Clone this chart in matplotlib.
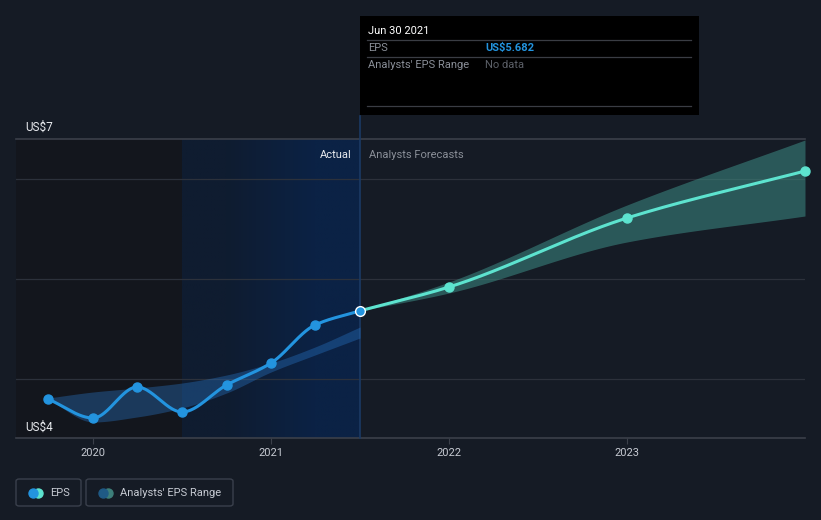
import numpy as np
import matplotlib.pyplot as plt
from matplotlib.patches import FancyBboxPatch, Rectangle
from matplotlib.lines import Line2D

plt.rcParams["font.family"] = ["Roboto", "DejaVu Sans"]

# EPS history (actual)
eps_dates = [2019.747, 2020.0, 2020.247, 2020.5, 2020.75, 2021.0, 2021.247, 2021.5]
eps_values = [4.80, 4.61, 4.92, 4.67, 4.94, 5.16, 5.54, 5.682]
# past analysts' range
past_high = [4.81, 4.87, 4.91, 4.96, 5.04, 5.16, 5.32, 5.52]
past_low = [4.80, 4.57, 4.62, 4.71, 4.86, 5.07, 5.24, 5.41]
# forecast
fc_dates = [2021.5, 2022.0, 2023.0, 2024.0]
fc_values = [5.682, 5.92, 6.61, 7.08]
fc_high = [5.682, 5.97, 6.74, 7.39]
fc_low = [5.682, 5.86, 6.37, 6.63]
years = [2020, 2021, 2022, 2023]

BG = "#151b25"
W, H = 821, 520


def smooth(x, y, n=300):
    # monotone cubic (pchip-like) curve through the points
    x = np.asarray(x, float); y = np.asarray(y, float)
    h = np.diff(x); d = np.diff(y) / h
    m = np.zeros_like(y)
    m[0], m[-1] = d[0], d[-1]
    for k in range(1, len(x) - 1):
        if d[k - 1] * d[k] > 0:
            w1 = 2 * h[k] + h[k - 1]; w2 = h[k] + 2 * h[k - 1]
            m[k] = (w1 + w2) / (w1 / d[k - 1] + w2 / d[k])
    xs = np.linspace(x[0], x[-1], n)
    idx = np.clip(np.searchsorted(x, xs) - 1, 0, len(x) - 2)
    t = (xs - x[idx]) / h[idx]
    h00 = 2 * t**3 - 3 * t**2 + 1; h10 = t**3 - 2 * t**2 + t
    h01 = -2 * t**3 + 3 * t**2; h11 = t**3 - t**2
    ys = h00 * y[idx] + h10 * h[idx] * m[idx] + h01 * y[idx + 1] + h11 * h[idx] * m[idx + 1]
    return xs, ys


def fx(px):
    return px / W


def fy(py):
    return 1 - py / H


fig = plt.figure(figsize=(W / 100, H / 100), dpi=100, facecolor=BG)
ax = fig.add_axes([fx(16), fy(438), fx(805) - fx(16), fy(139) - fy(438)])
ax.set_facecolor(BG)
x0, x1 = 2019.567, 2024.0
y0, y1 = 4.41, 7.40
ax.set_xlim(x0, x1)
ax.set_ylim(y0, y1)

# shaded past / last year regions
ax.axvspan(x0, 2020.5, color="#13161d", zorder=0, lw=0)
grad = np.linspace(0, 1, 2).reshape(1, -1)
c_left = np.array([0x0f, 0x1c, 0x30]) / 255
c_right = np.array([0x0b, 0x22, 0x45]) / 255
img = c_left[None, None, :] * (1 - grad[..., None]) + c_right[None, None, :] * grad[..., None]
ax.imshow(img, extent=[2020.5, 2021.5, y0, y1], aspect="auto", zorder=0.5,
          interpolation="bilinear")

# gridlines
for g in [5, 6, 7]:
    ax.axhline(g, color="#2c313b", lw=0.9, zorder=1)
ax.axhline(y1, color="#3b404a", lw=1.2, zorder=1, clip_on=False)

for s in ax.spines.values():
    s.set_visible(False)
ax.axhline(y0, color="#3b404a", lw=1.2, zorder=1, clip_on=False)
ax.set_yticks([])
ax.set_xticks(years)
ax.set_xticklabels([str(y) for y in years])
ax.tick_params(axis="x", colors="#3b404a", labelcolor="#c6cad2", labelsize=8, length=4, pad=3)

# divider line at last actual point
ax.axvline(2021.5, ymin=0, ymax=(438 - 116) / (438 - 139), color="#1b3a64", lw=1.2,
           zorder=1.5, clip_on=False)

# past analysts' range band
bx, bh = smooth(eps_dates, past_high)
_, bl = smooth(eps_dates, past_low)
ax.fill_between(bx, bl, bh, color="#2a7bd0", alpha=0.35, lw=0, zorder=2)

# forecast band
fx_, fh = smooth(fc_dates, fc_high)
_, fl = smooth(fc_dates, fc_low)
ax.fill_between(fx_, fl, fh, color="#3d8c84", alpha=0.55, lw=0, zorder=2)

# EPS lines
ex, ey = smooth(eps_dates, eps_values)
ax.plot(ex, ey, color="#2394df", lw=2.2, zorder=3, solid_capstyle="round")
ax.plot(eps_dates[:-1], eps_values[:-1], "o", color="#2394df", ms=6.5, zorder=4)
fxs, fys = smooth(fc_dates, fc_values)
ax.plot(fxs, fys, color="#5de3cf", lw=2.2, zorder=3, solid_capstyle="round")
ax.plot(fc_dates[1:], fc_values[1:], "o", color="#5de3cf", ms=6.5, zorder=4, clip_on=False)
ax.plot([eps_dates[-1]], [eps_values[-1]], "o", color="#2394df", mec="white", mew=1,
        ms=7, zorder=5)

# axis value labels
ax.text(fx(25), fy(127), "US$7", transform=fig.transFigure, color="#e8eaee", fontsize=8.5,
        va="center", ha="left")
ax.text(fx(25), fy(427), "US$4", transform=fig.transFigure, color="#e8eaee", fontsize=8.5,
        va="center", ha="left")
ax.text(2021.5 - 0.05, 7.24, "Actual", color="#e8eaee", fontsize=8, ha="right", va="center")
ax.text(2021.5 + 0.05, 7.24, "Analysts Forecasts", color="#8a8f98", fontsize=8,
        ha="left", va="center")

# tooltip
fig.add_artist(Rectangle((fx(360), fy(115)), fx(699) - fx(360), fy(16) - fy(115),
                         transform=fig.transFigure, facecolor="black", edgecolor="none"))
for ly in [40, 57, 106]:
    fig.add_artist(Line2D([fx(367), fx(691)], [fy(ly), fy(ly)], transform=fig.transFigure,
                          color="#3a3d44", lw=0.9))
fig.text(fx(368), fy(31), "Jun 30 2021", color="white", fontsize=8, va="center")
fig.text(fx(368), fy(48), "EPS", color="#8a8f98", fontsize=8, va="center")
fig.text(fx(485), fy(48), "US$5.682", color="#2394df", fontsize=8, va="center",
         fontweight="bold")
fig.text(fx(368), fy(65), "Analysts' EPS Range", color="#8a8f98", fontsize=8, va="center")
fig.text(fx(485), fy(65), "No data", color="#5c6068", fontsize=8, va="center")


# legend
def legend_box(left, right, label, c1, c2):
    fig.add_artist(FancyBboxPatch((fx(left), fy(506)), fx(right) - fx(left), fy(479) - fy(506),
                                  boxstyle="round,pad=0,rounding_size=0.004",
                                  transform=fig.transFigure, facecolor="none",
                                  edgecolor="#3a404c", lw=1))
    fig.add_artist(Line2D([fx(left + 22)], [fy(492.5)], marker="o", ms=6.5, color=c2,
                          transform=fig.transFigure))
    fig.add_artist(Line2D([fx(left + 17)], [fy(492.5)], marker="o", ms=6.5, color=c1,
                          transform=fig.transFigure))
    fig.text(fx(left + 34), fy(492.5), label, color="#c6cad2", fontsize=8, va="center")


legend_box(16, 81, "EPS", "#2394df", "#5de3cf")
legend_box(86, 233, "Analysts' EPS Range", "#1f5a85", "#3d7f7a")

fig.savefig("out.png", dpi=100, facecolor=BG)
